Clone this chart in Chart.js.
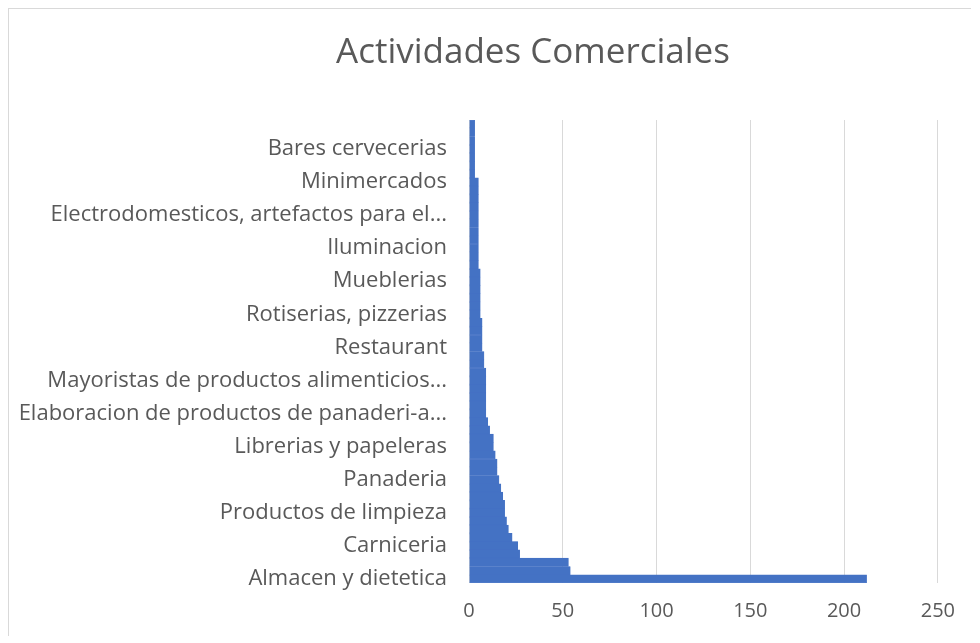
<!DOCTYPE html>
<html>
<head>
<meta charset="utf-8">
<script src="https://cdn.jsdelivr.net/npm/chart.js@4"></script>
<style>
  body { margin: 0; background: #fff; }
  #box {
    position: absolute; left: 8px; top: 8px;
    width: 962px; height: 627px;
    border: 1px solid #d9d9d9; border-right: none; border-bottom: none;
  }
</style>
</head>
<body>
<div id="box"><canvas id="chart" width="962" height="627"></canvas></div>
<script>
// categories, top to bottom; only every 4th one is labelled in the picture,
// the unreadable names are left blank
const categories = [
  "", "", "", "Bares cervecerias",
  "", "", "", "Minimercados",
  "", "", "", "Electrodomesticos, artefactos para el...",
  "", "", "", "Iluminacion",
  "", "", "", "Mueblerias",
  "", "", "", "Rotiserias, pizzerias",
  "", "", "", "Restaurant",
  "", "", "", "Mayoristas de productos alimenticios...",
  "", "", "", "Elaboracion de productos de panaderi-a...",
  "", "", "", "Librerias y papeleras",
  "", "", "", "Panaderia",
  "", "", "", "Productos de limpieza",
  "", "", "", "Carniceria",
  "", "", "", "Almacen y dietetica"
];

const counts = [
  3, 3, 3, 3, 3, 3, 3, 5,
  5, 5, 5, 5, 5, 5, 5, 5,
  5, 5, 6, 6, 6, 6, 6, 6,
  7, 7, 7, 7, 8, 8, 9, 9,
  9, 9, 9, 9, 10, 11, 13, 13,
  14, 15, 15, 16, 17, 18, 19, 19,
  20, 21, 23, 26, 27, 53, 54, 212
];

const xTicks = [0, 50, 100, 150, 200, 250];

const chartTitle = "Actividades Comerciales";
const textColor = "#595959";
const font = "'Open Sans', 'Liberation Sans', sans-serif";

// title sits left of the canvas centre in the original, so draw it by hand
const titlePlugin = {
  id: "offsetTitle",
  afterDraw: function (chart) {
    const ctx = chart.ctx;
    ctx.save();
    ctx.fillStyle = textColor;
    ctx.font = "35px " + font;
    ctx.textAlign = "center";
    ctx.textBaseline = "middle";
    ctx.fillText(chartTitle, 524, 44);
    ctx.restore();
  }
};

new Chart(document.getElementById("chart"), {
  type: "bar",
  data: {
    labels: categories,
    datasets: [{
      data: counts,
      backgroundColor: "#4472c4",
      borderColor: "#4472c4",
      borderWidth: 0.5,
      barPercentage: 1,
      categoryPercentage: 1
    }]
  },
  options: {
    indexAxis: "y",
    responsive: false,
    animation: false,
    layout: { padding: { left: 0, right: 27, top: 111, bottom: 8 } },
    plugins: {
      legend: { display: false },
      tooltip: { enabled: false },
      title: { display: false }
    },
    scales: {
      x: {
        min: xTicks[0],
        max: xTicks[xTicks.length - 1],
        afterBuildTicks: function (scale) {
          scale.ticks = xTicks.map(v => ({ value: v }));
        },
        afterFit: function (scale) { scale.height = 45; },
        grid: { color: "#d9d9d9", drawTicks: false },
        border: { display: false },
        ticks: {
          color: textColor,
          padding: 16,
          font: { family: font, size: 20 }
        }
      },
      y: {
        afterFit: function (scale) { scale.width = 460; },
        grid: { display: false, drawTicks: false },
        border: { display: false },
        ticks: {
          autoSkip: false,
          color: textColor,
          padding: 22,
          font: { family: font, size: 22 },
          callback: function (value, index) {
            return (categories.length - 1 - index) % 4 === 0 ? categories[index] : "";
          }
        }
      }
    }
  },
  plugins: [titlePlugin]
});
</script>
</body>
</html>
